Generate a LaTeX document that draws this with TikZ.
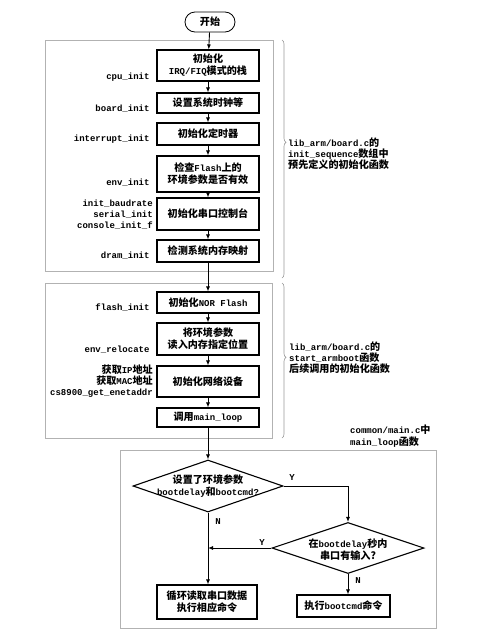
\documentclass[tikz,border=0pt]{standalone}
\usepackage{fontspec}
\setmainfont{Liberation Mono}
\newfontfamily\cjk{Noto Sans CJK SC}[Scale=1.12]
\newcommand\zh[1]{{\cjk\bfseries #1}}
\usetikzlibrary{shapes.geometric,arrows.meta,decorations.pathreplacing}
\begin{document}
\begin{tikzpicture}[x=1pt,y=-1pt,
 every node/.style={font=\fontsize{9}{12}\selectfont\bfseries},
 procbox/.style={draw, line width=1.1pt, minimum width=102pt, inner sep=1pt, align=center},
 decbox/.style={diamond, draw, line width=1.1pt, inner sep=0pt},
 grp/.style={draw=black!30, line width=0.6pt},
 brc/.style={draw=black!40, line width=0.6pt, decorate},
 flow/.style={line width=0.9pt, -{Latex[length=5pt,width=4pt]}},
 lbl/.style={anchor=base east, align=right, font=\fontsize{9}{10.5}\selectfont\bfseries},
 mlbl/.style={anchor=east, align=right, font=\fontsize{9}{10.8}\selectfont\bfseries, inner sep=0pt},
 note/.style={anchor=west, align=left, inner sep=0pt, font=\fontsize{9}{10.8}\selectfont\bfseries},
 yn/.style={inner sep=1pt}
]
\useasboundingbox[fill=white] (0,0) rectangle (484,635);

% group frames
\draw[grp] (45,40) rectangle (273,271);
\draw[grp] (45,283) rectangle (272,438);
\draw[grp] (120,450) rectangle (436,628);
\draw[brc, decoration={brace, amplitude=4pt, aspect=0.43}] (282,40) -- (282,278);
\draw[brc, decoration={brace, amplitude=4pt, aspect=0.48}] (282,283) -- (282,438);

% start
\node[draw, rounded corners=10pt, minimum width=50pt, minimum height=20pt, line width=0.8pt] (st) at (210,22) {\zh{开始}};

% boxes
\node[procbox, minimum height=31pt] (b1) at (208,65.5) {\zh{初始化}\\IRQ/FIQ\zh{模式的栈}};
\node[procbox, minimum height=20pt] (b2) at (208,103) {\zh{设置系统时钟等}};
\node[procbox, minimum height=22pt] (b3) at (208,134) {\zh{初始化定时器}};
\node[procbox, minimum height=36pt] (b4) at (208,174) {\zh{检查}Flash\zh{上的}\\\zh{环境参数是否有效}};
\node[procbox, minimum height=32pt] (b5) at (208,214) {\zh{初始化串口控制台}};
\node[procbox, minimum height=22pt] (b6) at (208,251) {\zh{检测系统内存映射}};
\node[procbox, minimum height=21pt] (b7) at (208,302.5) {\zh{初始化}NOR Flash};
\node[procbox, minimum height=32pt] (b8) at (208,339) {\zh{将环境参数}\\\zh{读入内存指定位置}};
\node[procbox, minimum height=31pt] (b9) at (208,381.5) {\zh{初始化网络设备}};
\node[procbox, minimum height=19pt] (b10) at (208,417.5) {\zh{调用}main\_loop};

% labels
\node[lbl] (l1) at (153,79) {cpu\_init};
\node[lbl] (l2) at (153,111) {board\_init};
\node[lbl] (l3) at (153,141.5) {interrupt\_init};
\node[lbl] (l4) at (153,185) {env\_init};
\node[mlbl] (l5) at (153,215) {init\_baudrate\\serial\_init\\console\_init\_f};
\node[lbl] (l6) at (153,258.5) {dram\_init};
\node[lbl] (l7) at (153,310) {flash\_init};
\node[lbl] (l8) at (153,352) {env\_relocate};
\node[mlbl] (l9) at (153,381) {\zh{获取}IP\zh{地址}\\\zh{获取}MAC\zh{地址}\\cs8900\_get\_enetaddr};

% notes
\node[note] (n1) at (288,153.5) {lib\_arm/board.c\zh{的}\\init\_sequence\zh{数组中}\\\zh{预先定义的初始化函数}};
\node[note] (n2) at (289,357.5) {lib\_arm/board.c\zh{的}\\start\_armboot\zh{函数}\\\zh{后续调用的初始化函数}};
\node[note, font=\fontsize{9}{12}\selectfont\bfseries] (n3) at (350,436) {common/main.c\zh{中}\\main\_loop\zh{函数}};

% decisions
\node[decbox, minimum width=150pt, minimum height=52pt] (d1) at (208,486) {};
\node[align=center, inner sep=0pt] (t1) at (d1) {\zh{设置了环境参数}\\bootdelay\zh{和}bootcmd?};
\node[decbox, minimum width=152pt, minimum height=51pt] (d2) at (348,548) {};
\node[align=center, inner sep=0pt] (t2) at (348,549.5) {\zh{在}bootdelay\zh{秒内}\\\zh{串口有输入?}};

\node[procbox, minimum width=100pt, minimum height=34pt] (b11) at (207,602) {\zh{循环读取串口数据}\\\zh{执行相应命令}};
\node[procbox, minimum width=93pt, minimum height=22pt] (b12) at (343.5,606) {\zh{执行}bootcmd\zh{命令}};

% connectors
\draw[flow] (st) -- (b1);
\draw[flow] (b1) -- (b2);
\draw[flow] (b2) -- (b3);
\draw[flow] (b3) -- (b4);
\draw[flow] (b4) -- (b5);
\draw[flow] (b5) -- (b6);
\draw[flow] (b6) -- (b7);
\draw[flow] (b7) -- (b8);
\draw[flow] (b8) -- (b9);
\draw[flow] (b9) -- (b10);
\draw[flow] (b10) -- (d1);
\draw[flow] (d1.east) -| (d2.north);
\draw[flow] (d1.south) -- (d1.south |- b11.north);
\coordinate (j) at (d1.south |- d2.west);
\draw[flow] (d2.west) -- (j);
\draw[flow] (d2.south) -- (d2.south |- b12.north);

\node[yn] (y1) at (292,478) {Y};
\node[yn] (y2) at (262,543) {Y};
\node[yn] (nn1) at (218,522) {N};
\node[yn] (nn2) at (358,581) {N};
\end{tikzpicture}
\end{document}
